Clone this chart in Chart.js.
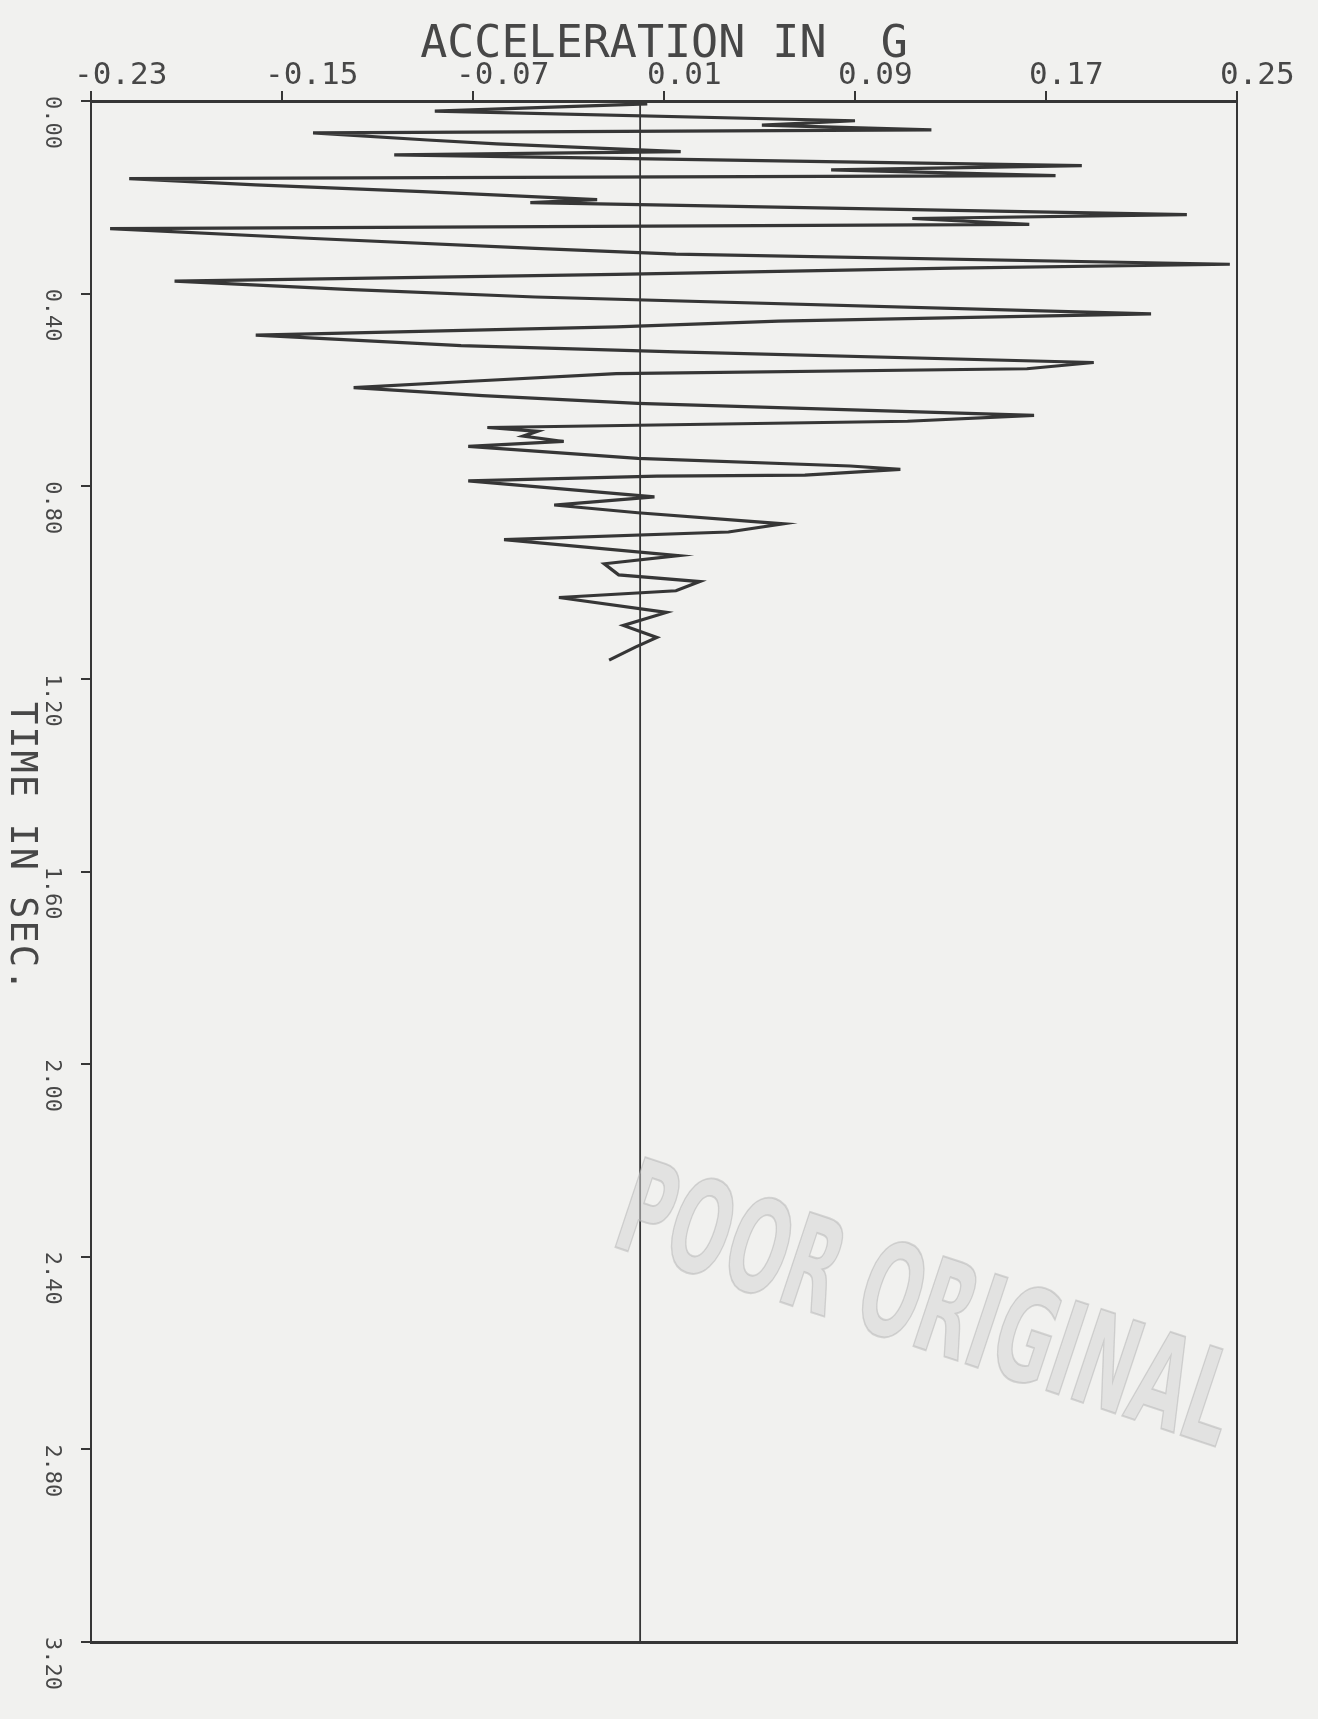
<!DOCTYPE html>
<html>
<head>
<meta charset="utf-8">
<script src="https://cdn.jsdelivr.net/npm/chart.js@4.4.1/dist/chart.umd.min.js"></script>
<style>
html,body{margin:0;padding:0;background:#f1f1ef;}
#wrap{position:relative;width:1318px;height:1719px;}
canvas{display:block;}
</style>
</head>
<body>
<div id="wrap"><canvas id="c" width="1318" height="1719"></canvas></div>
<script>
// ---- data ----
const timeSec = [0.006,0.021,0.041,0.050,0.060,0.066,0.081,0.089,0.105,0.112,
  0.134,0.143,0.155,0.161,0.174,0.188,0.205,0.211,0.236,0.244,
  0.256,0.265,0.285,0.306,0.318,0.339,0.347,0.360,0.374,0.391,
  0.407,0.442,0.457,0.469,0.486,0.508,0.521,0.543,0.556,0.566,
  0.583,0.595,0.612,0.628,0.653,0.665,0.678,0.686,0.696,0.707,
  0.717,0.742,0.758,0.765,0.777,0.779,0.789,0.822,0.839,0.855,
  0.878,0.895,0.911,0.944,0.961,0.984,0.998,1.017,1.031,1.062,
  1.089,1.114,1.134,1.161];
const accelG = [0.003,-0.086,0.090,0.051,0.122,-0.137,-0.089,-0.060,0.017,-0.103,
  0.185,0.080,0.174,-0.214,-0.161,-0.091,-0.018,-0.046,0.229,0.114,
  0.163,-0.222,-0.139,-0.044,0.015,0.247,0.131,-0.010,-0.195,-0.123,
  -0.044,0.214,0.058,-0.010,-0.161,-0.075,0.015,0.190,0.162,-0.010,
  -0.075,-0.120,-0.066,-0.001,0.165,0.112,-0.064,-0.043,-0.049,-0.032,
  -0.072,-0.001,0.088,0.109,0.069,0.007,-0.072,0.006,-0.036,-0.001,
  0.060,0.037,-0.057,0.016,-0.015,-0.009,0.025,0.015,-0.034,0.011,
  -0.007,0.007,-0.002,-0.013];
const zeroLineAccel = [0, 0];
const zeroLineTime = [0, 3.2];
const xTickValues = [-0.23,-0.15,-0.07,0.01,0.09,0.17,0.25];
const xTickLabels = ['-0.23','-0.15','-0.07','0.01','0.09','0.17','0.25'];
const yTickValues = [0,0.4,0.8,1.2,1.6,2.0,2.4,2.8,3.2];
const yTickLabels = ['0.00','0.40','0.80','1.20','1.60','2.00','2.40','2.80','3.20'];
const xTitle = 'ACCELERATION IN  G';
const yTitle = 'TIME IN SEC.';
const stampText = 'POOR ORIGINAL';

// ---- styles ----
const INK = '#363636';
const TEXT = '#474747';
const MONO = '"DejaVu Sans Mono", "Liberation Mono", monospace';

const tracePts = timeSec.map((t, i) => ({x: accelG[i], y: t}));
const zeroPts = zeroLineTime.map((t, i) => ({x: zeroLineAccel[i], y: t}));

const textPlugin = {
  id: 'plotterText',
  afterDraw(chart) {
    const ctx = chart.ctx;
    const xs = chart.scales.x, ys = chart.scales.y;
    const area = chart.chartArea;
    ctx.save();
    ctx.fillStyle = TEXT;
    ctx.textBaseline = 'alphabetic';
    // x tick labels
    ctx.font = '31px ' + MONO;
    ctx.textAlign = 'left';
    xTickValues.forEach((v, i) => {
      ctx.fillText(xTickLabels[i], xs.getPixelForValue(v) - 17, area.top - 17);
    });
    // x title
    ctx.font = '45px ' + MONO;
    ctx.textAlign = 'center';
    ctx.fillText(xTitle, (area.left + area.right) / 2, area.top - 44);
    // y tick labels (rotated clockwise)
    ctx.font = '22px ' + MONO;
    ctx.textAlign = 'left';
    yTickValues.forEach((v, i) => {
      ctx.save();
      ctx.translate(area.left - 45, ys.getPixelForValue(v) - 5);
      ctx.rotate(Math.PI / 2);
      ctx.fillText(yTickLabels[i], 0, 0);
      ctx.restore();
    });
    // y title
    ctx.save();
    ctx.font = '37px ' + MONO;
    try { ctx.letterSpacing = '2px'; } catch (e) {}
    ctx.translate(area.left - 80, 702);
    ctx.rotate(Math.PI / 2);
    ctx.fillText(yTitle, 0, 0);
    ctx.restore();
    // stamp
    ctx.save();
    ctx.translate(609, 1245);
    ctx.rotate(18.4 * Math.PI / 180);
    ctx.font = 'bold 130px "DejaVu Sans Condensed", "DejaVu Sans", sans-serif';
    const w = ctx.measureText(stampText).width;
    ctx.scale(641 / w, 1);
    ctx.globalAlpha = 0.5;
    ctx.fillStyle = '#d4d4d4';
    ctx.fillText(stampText, 0, 0);
    ctx.lineWidth = 2;
    ctx.strokeStyle = '#b4b4b4';
    ctx.strokeText(stampText, 0, 0);
    ctx.restore();
    ctx.restore();
  }
};

new Chart(document.getElementById('c'), {
  type: 'scatter',
  data: {
    datasets: [
      {
        label: 'zero',
        data: zeroPts,
        showLine: true,
        borderColor: INK,
        borderWidth: 1.8,
        pointRadius: 0,
        tension: 0
      },
      {
        label: 'acceleration',
        data: tracePts,
        showLine: true,
        borderColor: INK,
        borderWidth: 3.2,
        pointRadius: 0,
        tension: 0
      }
    ]
  },
  options: {
    responsive: false,
    devicePixelRatio: 1,
    animation: false,
    layout: {padding: {left: 81, top: 91, right: 73, bottom: 69}},
    plugins: {legend: {display: false}, tooltip: {enabled: false}, title: {display: false}},
    scales: {
      x: {
        type: 'linear', position: 'top', min: -0.23, max: 0.25,
        afterBuildTicks: s => { s.ticks = xTickValues.map(v => ({value: v})); },
        ticks: {display: false},
        grid: {display: true, drawOnChartArea: false, drawTicks: true, tickLength: 10, color: INK, lineWidth: 2},
        border: {display: true, color: INK, width: 3}
      },
      y: {
        type: 'linear', position: 'left', min: 0, max: 3.2, reverse: true,
        afterBuildTicks: s => { s.ticks = yTickValues.map(v => ({value: v})); },
        ticks: {display: false},
        grid: {display: true, drawOnChartArea: false, drawTicks: true, tickLength: 10, color: INK, lineWidth: 2},
        border: {display: true, color: INK, width: 2}
      },
      x2: {
        type: 'linear', position: 'bottom', min: -0.23, max: 0.25,
        ticks: {display: false},
        grid: {display: false},
        border: {display: true, color: INK, width: 3}
      },
      y2: {
        type: 'linear', position: 'right', min: 0, max: 3.2, reverse: true,
        ticks: {display: false},
        grid: {display: false},
        border: {display: true, color: INK, width: 2}
      }
    }
  },
  plugins: [textPlugin]
});
</script>
</body>
</html>
